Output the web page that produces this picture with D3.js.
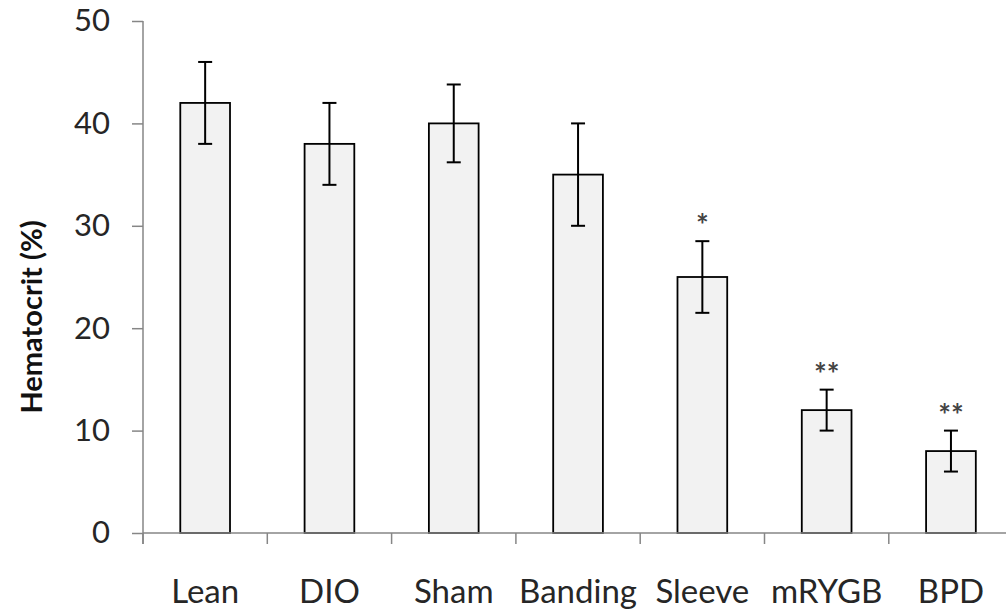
<!DOCTYPE html>
<html>
<head>
<meta charset="utf-8">
<script src="https://cdn.jsdelivr.net/npm/d3@7"></script>
<style>
  html, body { margin: 0; padding: 0; background: #fff; }
  svg { display: block; font-family: Lato, "Open Sans", sans-serif; }
</style>
</head>
<body>
<svg id="chart"></svg>
<script>
// data
const categories = ["Lean", "DIO", "Sham", "Banding", "Sleeve", "mRYGB", "BPD"];
const means = [42, 38, 40, 35, 25, 12, 8];
const errors = [4, 4, 3.8, 5, 3.5, 2, 2];
const significance = ["", "", "", "", "*", "**", "**"];
const yTicks = [0, 10, 20, 30, 40, 50];

const width = 1006;
const height = 614;
const margin = { top: 21, left: 143, bottom: 81 };

const svg = d3.select("#chart").attr("width", width).attr("height", height);

const x = d3.scaleBand()
  .domain(categories)
  .range([margin.left, margin.left + 7 * 124.3])
  .paddingInner(0.6)
  .paddingOuter(0.3);

const y = d3.scaleLinear()
  .domain([0, 50])
  .range([height - margin.bottom, margin.top]);

const axisColor = "#868686";
const textColor = "#262626";

// bars
svg.selectAll(".bar")
  .data(categories)
  .join("rect")
  .attr("class", "bar")
  .attr("x", d => x(d))
  .attr("y", (d, i) => y(means[i]))
  .attr("width", x.bandwidth())
  .attr("height", (d, i) => y(0) - y(means[i]))
  .attr("fill", "#f2f2f2")
  .attr("stroke", "#000")
  .attr("stroke-width", 1.8);

// error bars
const eb = svg.append("g").attr("stroke", "#000").attr("stroke-width", 2);
categories.forEach((c, i) => {
  const cx = x(c) + x.bandwidth() / 2;
  const top = y(means[i] + errors[i]);
  const bot = y(means[i] - errors[i]);
  eb.append("line").attr("x1", cx).attr("x2", cx).attr("y1", top).attr("y2", bot);
  eb.append("line").attr("x1", cx - 7).attr("x2", cx + 7).attr("y1", top).attr("y2", top);
  eb.append("line").attr("x1", cx - 7).attr("x2", cx + 7).attr("y1", bot).attr("y2", bot);
});

// significance stars
svg.selectAll(".sig")
  .data(categories)
  .join("text")
  .attr("class", "sig")
  .attr("x", d => x(d) + x.bandwidth() / 2)
  .attr("y", (d, i) => y(means[i] + errors[i]) - 5)
  .attr("text-anchor", "middle")
  .attr("font-size", "30px")
  .attr("font-weight", "bold")
  .attr("fill", "#444")
  .text((d, i) => significance[i]);

// y axis
const yAxis = svg.append("g")
  .attr("transform", `translate(${margin.left},0)`)
  .call(d3.axisLeft(y).tickValues(yTicks).tickSize(11).tickPadding(22));
yAxis.select(".domain").attr("d", `M0,${y(50)}V${y(0) + 11}`);
yAxis.selectAll("line, path").attr("stroke", axisColor).attr("stroke-width", 1.5);
yAxis.selectAll("text")
  .attr("font-size", "31px")
  .attr("font-family", "Lato, sans-serif")
  .attr("fill", textColor);

// x axis, ticks between categories
const xAxis = svg.append("g")
  .attr("transform", `translate(0,${y(0)})`);
xAxis.append("line")
  .attr("x1", margin.left).attr("x2", width)
  .attr("stroke", axisColor).attr("stroke-width", 1.5);
const step = x.step();
const start = x(categories[0]) - x.paddingOuter() * step;
const boundaries = d3.range(categories.length + 1).map(i => start + i * step);
xAxis.selectAll(".btick")
  .data(boundaries)
  .join("line")
  .attr("class", "btick")
  .attr("x1", d => d).attr("x2", d => d)
  .attr("y1", 0).attr("y2", 11)
  .attr("stroke", axisColor).attr("stroke-width", 1.5);
xAxis.selectAll(".xlabel")
  .data(categories)
  .join("text")
  .attr("class", "xlabel")
  .attr("x", d => x(d) + x.bandwidth() / 2)
  .attr("y", 70)
  .attr("text-anchor", "middle")
  .attr("font-size", "33px")
  .attr("fill", textColor)
  .text(d => d);

// y axis title
svg.append("text")
  .attr("transform", `translate(42,${(y(0) + y(50)) / 2 + 40}) rotate(-90)`)
  .attr("text-anchor", "middle")
  .attr("font-size", "29px")
  .attr("font-weight", "bold")
  .attr("fill", "#111")
  .text("Hematocrit (%)");
</script>
</body>
</html>
